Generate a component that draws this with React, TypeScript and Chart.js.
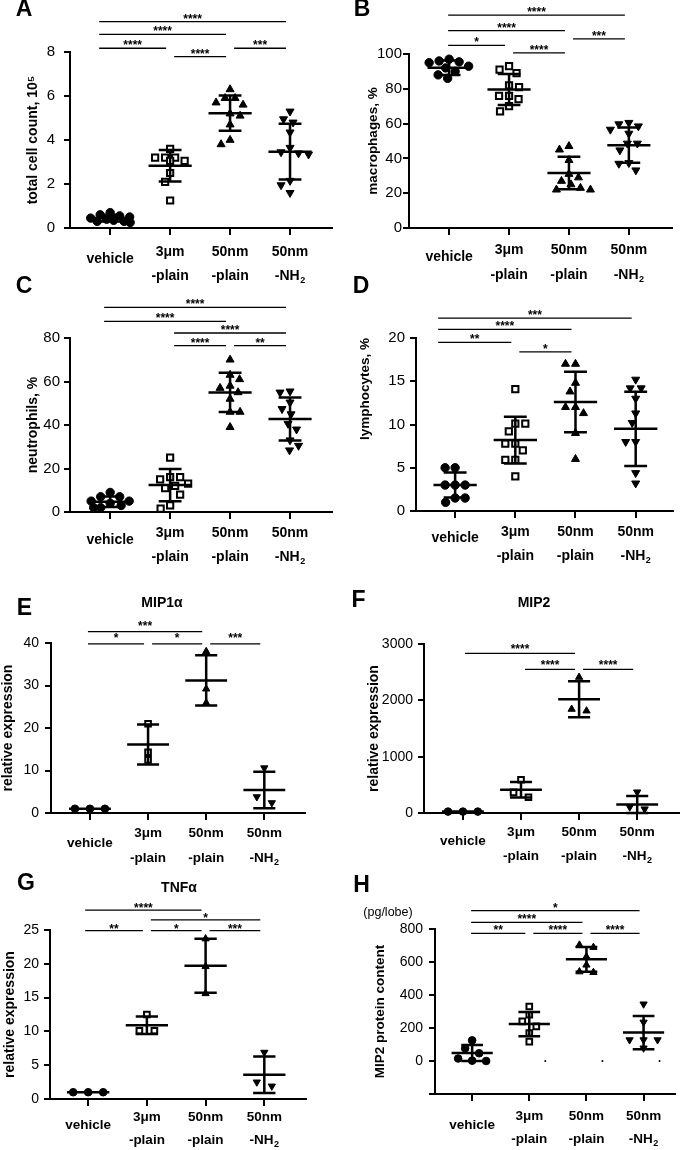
import React, { useEffect, useRef } from 'react';
import { Chart, registerables } from 'chart.js';

Chart.register(...registerables);

const FONT = "'Liberation Sans', Arial, Helvetica, sans-serif";

// ---- categories (x tick labels) ----
const CATEGORY_LINE1 = ['vehicle', '3μm', '50nm', '50nm'];
const CATEGORY_LINE2 = ['', '-plain', '-plain', '-NH'];
const CATEGORY_SUB = ['', '', '', '2'];

type Bracket = [number, number, string, number]; // from group, to group, stars, height (data units)

// ---- A: total cell count ----
const A_vehicle = [0.7, 0.6, 0.55, 0.5, 0.45, 0.4, 0.35, 0.3, 0.3, 0.25];
const A_3um = [3.6, 3.2, 3.2, 3.2, 3.05, 3.05, 2.5, 2.1, 1.25];
const A_50nm = [6.3, 5.9, 5.9, 5.7, 5.6, 5.2, 5.1, 4.7, 4.0, 3.8];
const A_nh2 = [5.3, 4.95, 4.8, 4.35, 3.65, 3.45, 3.4, 3.35, 2.15, 1.95, 1.6];
const A_mean = [0.45, 2.83, 5.22, 3.47];
const A_sd = [0.15, 0.72, 0.8, 1.27];
const A_yTicks = [0, 2, 4, 6, 8];
const A_brackets: Bracket[] = [[0, 3, '****', 9.38], [0, 2, '****', 8.8], [0, 1, '****', 8.17], [1, 2, '****', 7.79], [2, 3, '***', 8.17]];

// ---- B: macrophages ----
const B_vehicle = [97, 96, 95.5, 95, 93, 92, 90, 88, 86];
const B_3um = [93, 91, 89, 82, 81, 76, 76, 74, 70, 67];
const B_50nm = [47, 45, 39, 31, 29, 27, 25, 23, 22, 22];
const B_nh2 = [60.5, 59.7, 58.5, 56.6, 54.3, 48.6, 48.6, 44.7, 37.4, 37, 33.2];
const B_mean = [92.1, 79.6, 31.6, 47.6];
const B_sd = [4.1, 8.95, 9.3, 10.1];
const B_yTicks = [0, 20, 40, 60, 80, 100];
const B_brackets: Bracket[] = [[0, 3, '****', 122.3], [0, 2, '****', 113.4], [0, 1, '*', 105], [1, 2, '****', 100.6], [2, 3, '***', 108.7]];

// ---- C: neutrophils ----
const C_vehicle = [9, 7, 7, 5, 5, 4, 3, 2, 2];
const C_3um = [25, 16, 16, 15, 13, 12, 11, 8, 3, 1.5];
const C_50nm = [70, 63, 61, 58, 57, 55, 52, 46, 46, 39];
const C_nh2 = [55.5, 55, 50.4, 47.4, 45, 40.6, 38, 33, 30.5, 28.4];
const C_mean = [4.7, 12.4, 55, 42.8];
const C_sd = [2.45, 7.4, 9, 9.9];
const C_yTicks = [0, 20, 40, 60, 80];
const C_brackets: Bracket[] = [[0, 3, '****', 94.1], [0, 2, '****', 87.6], [1, 3, '****', 82.3], [1, 2, '****', 76.5], [2, 3, '**', 76.5]];

// ---- D: lymphocytes ----
const D_vehicle = [5, 5, 3, 3, 3, 1.5, 1.5, 1];
const D_3um = [14.1, 10.1, 10.1, 9.2, 7.8, 7.8, 7, 5.9, 5.9, 4];
const D_50nm = [17, 17, 14.8, 13.8, 12, 12, 11.3, 9, 6];
const D_nh2 = [15.2, 14.2, 14.2, 13, 11.3, 10.2, 8, 8, 4.4, 3.2];
const D_mean = [3.0, 8.2, 12.6, 9.5];
const D_sd = [1.45, 2.7, 3.5, 4.3];
const D_yTicks = [0, 5, 10, 15, 20];
const D_brackets: Bracket[] = [[0, 3, '***', 22.3], [0, 2, '****', 21.0], [0, 1, '**', 19.5], [1, 2, '*', 18.4]];

// ---- E: MIP1α ----
const E_vehicle = [1, 1, 1];
const E_3um = [21, 14.3, 12.5];
const E_50nm = [38, 29.2, 25.9];
const E_nh2 = [10.6, 3.8, 2.4];
const E_mean = [1, 16.1, 31.2, 5.4];
const E_sd = [0, 4.7, 5.9, 4.3];
const E_yTicks = [0, 10, 20, 30, 40];
const E_brackets: Bracket[] = [[0, 2, '***', 42.7], [0, 1, '*', 39.8], [1, 2, '*', 39.8], [2, 3, '***', 39.8]];

// ---- F: MIP2 ----
const F_vehicle = [25, 25, 25];
const F_3um = [590, 365, 280];
const F_50nm = [2410, 1843, 1813];
const F_nh2 = [372, 106, 71];
const F_mean = [25, 413, 2020, 150];
const F_sd = [0, 136, 320, 150];
const F_yTicks = [0, 1000, 2000, 3000];
const F_brackets: Bracket[] = [[0, 2, '****', 2835], [1, 2, '****', 2551], [2, 3, '****', 2551]];

// ---- G: TNFα ----
const G_vehicle = [1, 1, 1];
const G_3um = [12.5, 10.1, 10.1];
const G_50nm = [23.7, 19.6, 15.6];
const G_nh2 = [6.9, 2.5, 1.9];
const G_mean = [1, 10.9, 19.7, 3.6];
const G_sd = [0, 1.3, 4, 2.7];
const G_yTicks = [0, 5, 10, 15, 20, 25];
const G_brackets: Bracket[] = [[0, 2, '****', 27.95], [1, 3, '*', 26.5], [0, 1, '**', 24.9], [1, 2, '*', 24.9], [2, 3, '***', 24.9]];

// ---- H: MIP2 protein ----
const H_vehicle = [125, 77, 47, 15, 2, 0];
const H_3um = [330, 280, 240, 210, 170, 117];
const H_50nm = [703, 689, 632, 582, 541, 537];
const H_nh2 = [345, 235, 128, 128, 128, 78];
const H_mean = [48.5, 224, 616, 172];
const H_sd = [48.5, 73.5, 75, 101];
const H_yTicks = [0, 200, 400, 600, 800];
const H_yMin = -200;
const H_dots = [0, 0, 0]; // small dots at groups 2..4
const H_brackets: Bracket[] = [[0, 3, '*', 911], [0, 2, '****', 840], [0, 1, '**', 773], [1, 2, '****', 773], [2, 3, '****', 773]];

interface Panel {
  letter: string;
  letterAt: [number, number];
  title?: string;
  titleAt?: [number, number];
  unit?: string;
  unitAt?: [number, number];
  canvas: [number, number, number, number];
  plot: [number, number, number, number]; // left, top, right, bottom (page px)
  xRange: [number, number];
  yTicks: number[];
  yMin?: number;
  yTitle: string;
  yTitleSize: number;
  yTitlePad: number;
  yTitleAlign?: string;
  tickSize: number;
  tickPad: number;
  groups: number[][];
  means: number[];
  sds: number[];
  brackets: Bracket[];
  labelDy: [number, number, number];
  labelSize: number;
  v0: number;
  starDy: number;
  swarm: 'bee' | 'row';
  step: number;
  rowPx: number;
  mark: number;
  dots?: number[];
}

const PANELS: Panel[] = [
  { letter: 'A', letterAt: [24, 10], canvas: [0, 0, 340, 290], plot: [70, 52, 332, 228], xRange: [-0.67, 3.7],
    yTicks: A_yTicks, yTitle: 'total cell count, 10⁵', yTitleSize: 14, yTitlePad: 25, tickSize: 15, tickPad: 9,
    groups: [A_vehicle, A_3um, A_50nm, A_nh2], means: A_mean, sds: A_sd, brackets: A_brackets,
    labelDy: [24, 31, 48], labelSize: 14, v0: -11, starDy: 6, swarm: 'bee', step: 10, rowPx: 20, mark: 4.2 },
  { letter: 'B', letterAt: [362, 10], canvas: [340, 0, 345, 290], plot: [409, 54, 672, 228], xRange: [-0.67, 3.72],
    yTicks: B_yTicks, yTitle: 'macrophages, %', yTitleSize: 13.5, yTitlePad: 25, tickSize: 15, tickPad: 1,
    groups: [B_vehicle, B_3um, B_50nm, B_nh2], means: B_mean, sds: B_sd, brackets: B_brackets,
    labelDy: [22, 29, 47], labelSize: 14, v0: -1, starDy: 6, swarm: 'bee', step: 10, rowPx: 22, mark: 4.2 },
  { letter: 'C', letterAt: [24, 286.5], canvas: [0, 270, 340, 300], plot: [70, 338, 332, 512], xRange: [-0.67, 3.7],
    yTicks: C_yTicks, yTitle: 'neutrophils, %', yTitleSize: 14, yTitlePad: 24.6, tickSize: 15, tickPad: 4,
    groups: [C_vehicle, C_3um, C_50nm, C_nh2], means: C_mean, sds: C_sd, brackets: C_brackets,
    labelDy: [21, 28, 45], labelSize: 14, v0: -6, starDy: 6, swarm: 'bee', step: 10, rowPx: 20, mark: 4.2 },
  { letter: 'D', letterAt: [361, 286.5], canvas: [340, 270, 345, 300], plot: [416, 338, 673, 511], xRange: [-0.65, 3.62],
    yTicks: D_yTicks, yTitle: 'lymphocytes, %', yTitleSize: 13.5, yTitlePad: 17, yTitleAlign: 'end', tickSize: 15, tickPad: 5,
    groups: [D_vehicle, D_3um, D_50nm, D_nh2], means: D_mean, sds: D_sd, brackets: D_brackets,
    labelDy: [21, 27, 45], labelSize: 14, v0: -17, starDy: 6, swarm: 'bee', step: 10, rowPx: 20, mark: 4.2 },
  { letter: 'E', letterAt: [24.5, 608.5], title: 'MIP1α', titleAt: [162, 603], canvas: [0, 570, 340, 300], plot: [51, 643, 305, 813], xRange: [-0.67, 3.7],
    yTicks: E_yTicks, yTitle: 'relative expression', yTitleSize: 14, yTitlePad: 0, tickSize: 14, tickPad: 6,
    groups: [E_vehicle, E_3um, E_50nm, E_nh2], means: E_mean, sds: E_sd, brackets: E_brackets,
    labelDy: [20, 30, 45], labelSize: 13.5, v0: -2, starDy: 9, swarm: 'row', step: 15, rowPx: 6, mark: 3.8 },
  { letter: 'F', letterAt: [358.5, 600.5], title: 'MIP2', titleAt: [534, 603], canvas: [340, 570, 345, 300], plot: [424, 644, 681, 813], xRange: [-0.67, 3.72],
    yTicks: F_yTicks, yTitle: 'relative expression', yTitleSize: 14, yTitlePad: 26, tickSize: 14, tickPad: 5,
    groups: [F_vehicle, F_3um, F_50nm, F_nh2], means: F_mean, sds: F_sd, brackets: F_brackets,
    labelDy: [19, 28, 43], labelSize: 13.5, v0: 2, starDy: 7, swarm: 'row', step: 15, rowPx: 6, mark: 3.8 },
  { letter: 'G', letterAt: [26, 883.5], title: 'TNFα', titleAt: [179, 888], canvas: [0, 860, 340, 290], plot: [50, 930, 306, 1099], xRange: [-0.65, 3.71],
    yTicks: G_yTicks, yTitle: 'relative expression', yTitleSize: 14, yTitlePad: 1.6, tickSize: 14, tickPad: 5,
    groups: [G_vehicle, G_3um, G_50nm, G_nh2], means: G_mean, sds: G_sd, brackets: G_brackets,
    labelDy: [18, 26, 41], labelSize: 13.5, v0: -3, starDy: 5, swarm: 'row', step: 15, rowPx: 6, mark: 3.8 },
  { letter: 'H', letterAt: [361.5, 885.5], unit: '(pg/lobe)', unitAt: [388, 913], canvas: [340, 860, 345, 290], plot: [435, 929, 675, 1094], xRange: [-0.65, 3.55],
    yTicks: H_yTicks, yMin: H_yMin, yTitle: 'MIP2 protein content', yTitleSize: 13.5, yTitlePad: 32.6, tickSize: 14, tickPad: 6,
    groups: [H_vehicle, H_3um, H_50nm, H_nh2], means: H_mean, sds: H_sd, brackets: H_brackets,
    labelDy: [22, 31, 45], labelSize: 13.5, v0: -1, starDy: 6, swarm: 'row', step: 14, rowPx: 6, mark: 3.8, dots: H_dots },
];

const MARKERS = [
  { style: 'circle', fill: '#000', rot: 0, k: 1.0, bw: 1 },
  { style: 'rect', fill: '#fff', rot: 0, k: 1.05, bw: 2 },
  { style: 'triangle', fill: '#000', rot: 0, k: 1.1, bw: 1 },
  { style: 'triangle', fill: '#000', rot: 180, k: 1.1, bw: 1 },
];

// GraphPad-like scatter: values in the same row spread symmetrically
function rowOffsets(values: number[], pxPerUnit: number, rowPx: number, stepPx: number, catPx: number) {
  const order = values.map((_, i) => i).sort((a, b) => values[b] - values[a]);
  const out = new Array(values.length).fill(0);
  let row: number[] = [];
  let rowTop = 0;
  const flush = () => {
    row.forEach((k, j) => {
      out[k] = ((j - (row.length - 1) / 2) * stepPx) / catPx;
    });
    row = [];
  };
  order.forEach((k) => {
    const y = values[k] * pxPerUnit;
    if (row.length && rowTop - y > rowPx) flush();
    if (!row.length) rowTop = y;
    row.push(k);
  });
  flush();
  return out;
}

// beeswarm limited to +-maxHalf px: closest non-colliding spot, else least-crowded spot
function beeOffsets(values: number[], pxPerUnit: number, dist: number, maxHalf: number, catPx: number) {
  const order = values.map((_, i) => i).sort((a, b) => values[b] - values[a]);
  const out = new Array(values.length).fill(0);
  const placed: { x: number; y: number }[] = [];
  order.forEach((k, n) => {
    const y = values[k] * pxPerUnit;
    const side = n % 2 === 0 ? 1 : -1;
    const minD = (x: number) =>
      placed.reduce((m, p) => Math.min(m, Math.hypot(p.x - x, p.y - y)), Infinity);
    let chosen: number | null = null;
    let best = 0;
    let bestD = -1;
    for (let d = 0; d <= maxHalf && chosen === null; d += 0.5) {
      const cands = d === 0 ? [0] : [d * side, -d * side];
      for (const x of cands) {
        const md = minD(x);
        if (md >= dist) {
          chosen = x;
          break;
        }
        if (md > bestD + 0.01) {
          bestD = md;
          best = x;
        }
      }
    }
    const x = chosen === null ? best : chosen;
    placed.push({ x, y });
    out[k] = x / catPx;
  });
  return out;
}

function drawCatLabel(ctx: CanvasRenderingContext2D, cx: number, y: number, main: string, sub: string, size: number) {
  const subSize = Math.round(size * 0.65);
  ctx.font = `bold ${size}px ${FONT}`;
  const w1 = ctx.measureText(main).width;
  let w2 = 0;
  if (sub) {
    ctx.font = `bold ${subSize}px ${FONT}`;
    w2 = ctx.measureText(sub).width + 0.5;
  }
  const x0 = cx - (w1 + w2) / 2;
  ctx.textAlign = 'left';
  ctx.textBaseline = 'middle';
  ctx.font = `bold ${size}px ${FONT}`;
  ctx.fillText(main, x0, y);
  if (sub) {
    ctx.font = `bold ${subSize}px ${FONT}`;
    ctx.fillText(sub, x0 + w1 + 0.5, y + size * 0.33);
  }
}

function decorPlugin(p: Panel) {
  const [cx, cy] = p.canvas;
  return {
    id: 'decor' + p.letter,
    afterDatasetsDraw(chart: any) {
      const xs = chart.scales.x;
      const ys = chart.scales.y;
      const ctx = chart.ctx as CanvasRenderingContext2D;
      const cat = xs.getPixelForValue(1) - xs.getPixelForValue(0);
      const mw = cat * 0.36;
      const cw = cat * 0.19;
      ctx.save();
      ctx.strokeStyle = '#000';
      ctx.lineWidth = 2.5;
      p.means.forEach((m, i) => {
        const x = xs.getPixelForValue(i);
        const ym = ys.getPixelForValue(m);
        ctx.beginPath();
        ctx.moveTo(x - mw, ym);
        ctx.lineTo(x + mw, ym);
        const sd = p.sds[i];
        if (sd > 0) {
          const yh = ys.getPixelForValue(m + sd);
          const yl = ys.getPixelForValue(m - sd);
          ctx.moveTo(x, yh);
          ctx.lineTo(x, yl);
          ctx.moveTo(x - cw, yh);
          ctx.lineTo(x + cw, yh);
          ctx.moveTo(x - cw, yl);
          ctx.lineTo(x + cw, yl);
        }
        ctx.stroke();
      });
      ctx.restore();
    },
    afterDraw(chart: any) {
      const xs = chart.scales.x;
      const ys = chart.scales.y;
      const ctx = chart.ctx as CanvasRenderingContext2D;
      const bottom = chart.chartArea.bottom;
      ctx.save();
      ctx.fillStyle = '#000';
      ctx.strokeStyle = '#000';
      // significance brackets
      p.brackets.forEach(([from, to, stars, at]) => {
        const y = ys.getPixelForValue(at);
        const x1 = xs.getPixelForValue(from) + (from === 0 ? p.v0 : 4);
        const x2 = xs.getPixelForValue(to) - 4;
        ctx.lineWidth = 1.3;
        ctx.beginPath();
        ctx.moveTo(x1, y);
        ctx.lineTo(x2, y);
        ctx.stroke();
        ctx.font = `bold 12px ${FONT}`;
        ctx.textAlign = 'center';
        ctx.textBaseline = 'alphabetic';
        ctx.fillText(stars, (x1 + x2) / 2, y + 7 - p.starDy);
      });
      // category labels
      CATEGORY_LINE1.forEach((l1, i) => {
        const x = xs.getPixelForValue(i);
        const l2 = CATEGORY_LINE2[i];
        if (!l2) {
          drawCatLabel(ctx, x, bottom + p.labelDy[1], l1, '', p.labelSize);
        } else {
          drawCatLabel(ctx, x, bottom + p.labelDy[0], l1, '', p.labelSize);
          drawCatLabel(ctx, x, bottom + p.labelDy[2], l2, CATEGORY_SUB[i], p.labelSize);
        }
      });
      // panel letter
      ctx.font = `bold 23px ${FONT}`;
      ctx.textAlign = 'center';
      ctx.textBaseline = 'middle';
      ctx.fillText(p.letter, p.letterAt[0] - cx, p.letterAt[1] - cy);
      if (p.title && p.titleAt) {
        ctx.font = `bold 14px ${FONT}`;
        ctx.fillText(p.title, p.titleAt[0] - cx, p.titleAt[1] - cy);
      }
      if (p.unit && p.unitAt) {
        ctx.font = `12.5px ${FONT}`;
        ctx.fillText(p.unit, p.unitAt[0] - cx, p.unitAt[1] - cy);
      }
      ctx.restore();
    },
  };
}

function buildConfig(p: Panel): any {
  const [cx, cy, cw, ch] = p.canvas;
  const [left, top, right, bottom] = p.plot;
  const yMin = p.yMin !== undefined ? p.yMin : p.yTicks[0];
  const yMax = p.yTicks[p.yTicks.length - 1];
  const pxPerUnit = (bottom - top) / (yMax - yMin);
  const catPx = (right - left) / (p.xRange[1] - p.xRange[0]);
  const datasets: any[] = p.groups.map((vals, i) => {
    const m = MARKERS[i];
    const offs =
      p.swarm === 'bee'
        ? beeOffsets(vals, pxPerUnit, p.step, p.rowPx, catPx)
        : rowOffsets(vals, pxPerUnit, p.rowPx, p.step, catPx);
    const r = p.mark * m.k;
    return {
      label: CATEGORY_LINE1[i] + CATEGORY_LINE2[i],
      data: vals.map((v, k) => ({ x: i + offs[k], y: v })),
      pointStyle: m.style,
      pointRotation: m.rot,
      pointRadius: r,
      pointHoverRadius: r,
      pointBackgroundColor: m.fill,
      pointBorderColor: '#000',
      pointBorderWidth: m.bw,
      showLine: false,
      clip: false,
    };
  });
  if (p.dots) {
    datasets.push({
      label: 'dots',
      data: p.dots.map((v, k) => ({ x: k + 1 + 16 / catPx, y: v })),
      pointStyle: 'circle',
      pointRadius: 1,
      pointBackgroundColor: '#000',
      pointBorderColor: '#000',
      pointBorderWidth: 0,
      showLine: false,
      clip: false,
    });
  }
  const step = p.yTicks[1] - p.yTicks[0];
  return {
    type: 'scatter',
    data: { datasets },
    options: {
      responsive: false,
      maintainAspectRatio: false,
      animation: false,
      events: [],
      devicePixelRatio: 1,
      layout: { padding: { top: top - cy, right: cx + cw - right, bottom: 0, left: 0 } },
      plugins: { legend: { display: false }, tooltip: { enabled: false } },
      scales: {
        x: {
          type: 'linear',
          position: 'bottom',
          min: p.xRange[0],
          max: p.xRange[1],
          afterBuildTicks: (s: any) => {
            s.ticks = CATEGORY_LINE1.map((_, i) => ({ value: i }));
          },
          afterFit: (s: any) => {
            s.height = cy + ch - bottom;
          },
          ticks: { display: false },
          grid: { display: true, drawOnChartArea: false, drawTicks: true, tickLength: 7, color: '#000', lineWidth: 2 },
          border: { display: true, color: '#000', width: 2 },
        },
        y: {
          type: 'linear',
          position: 'left',
          min: yMin,
          max: yMax,
          afterFit: (s: any) => {
            s.width = left - cx;
          },
          ticks: {
            stepSize: step,
            color: '#000',
            padding: p.tickPad,
            font: { family: FONT, size: p.tickSize },
            callback: (v: number) => (p.yTicks.includes(v) ? String(v) : ''),
          },
          grid: { display: true, drawOnChartArea: false, drawTicks: true, tickLength: 6, color: '#000', lineWidth: 2 },
          border: { display: true, color: '#000', width: 2 },
          title: {
            display: true,
            text: p.yTitle,
            color: '#000',
            align: p.yTitleAlign || 'center',
            font: { family: FONT, size: p.yTitleSize, weight: 'bold' },
            padding: { top: p.yTitlePad, bottom: 0 },
          },
        },
      },
    },
    plugins: [decorPlugin(p)],
  };
}

function PanelChart({ panel }: { panel: Panel }) {
  const ref = useRef<HTMLCanvasElement>(null);
  useEffect(() => {
    if (!ref.current) return;
    const chart = new Chart(ref.current, buildConfig(panel));
    return () => chart.destroy();
  }, [panel]);
  const [x, y, w, h] = panel.canvas;
  return (
    <canvas
      ref={ref}
      width={w}
      height={h}
      style={{ position: 'absolute', left: x, top: y, width: w, height: h }}
    />
  );
}

export default function App() {
  return (
    <div style={{ position: 'absolute', left: 0, top: 0, width: 685, height: 1150, background: '#fff', overflow: 'hidden' }}>
      {PANELS.map((p) => (
        <PanelChart key={p.letter} panel={p} />
      ))}
    </div>
  );
}
